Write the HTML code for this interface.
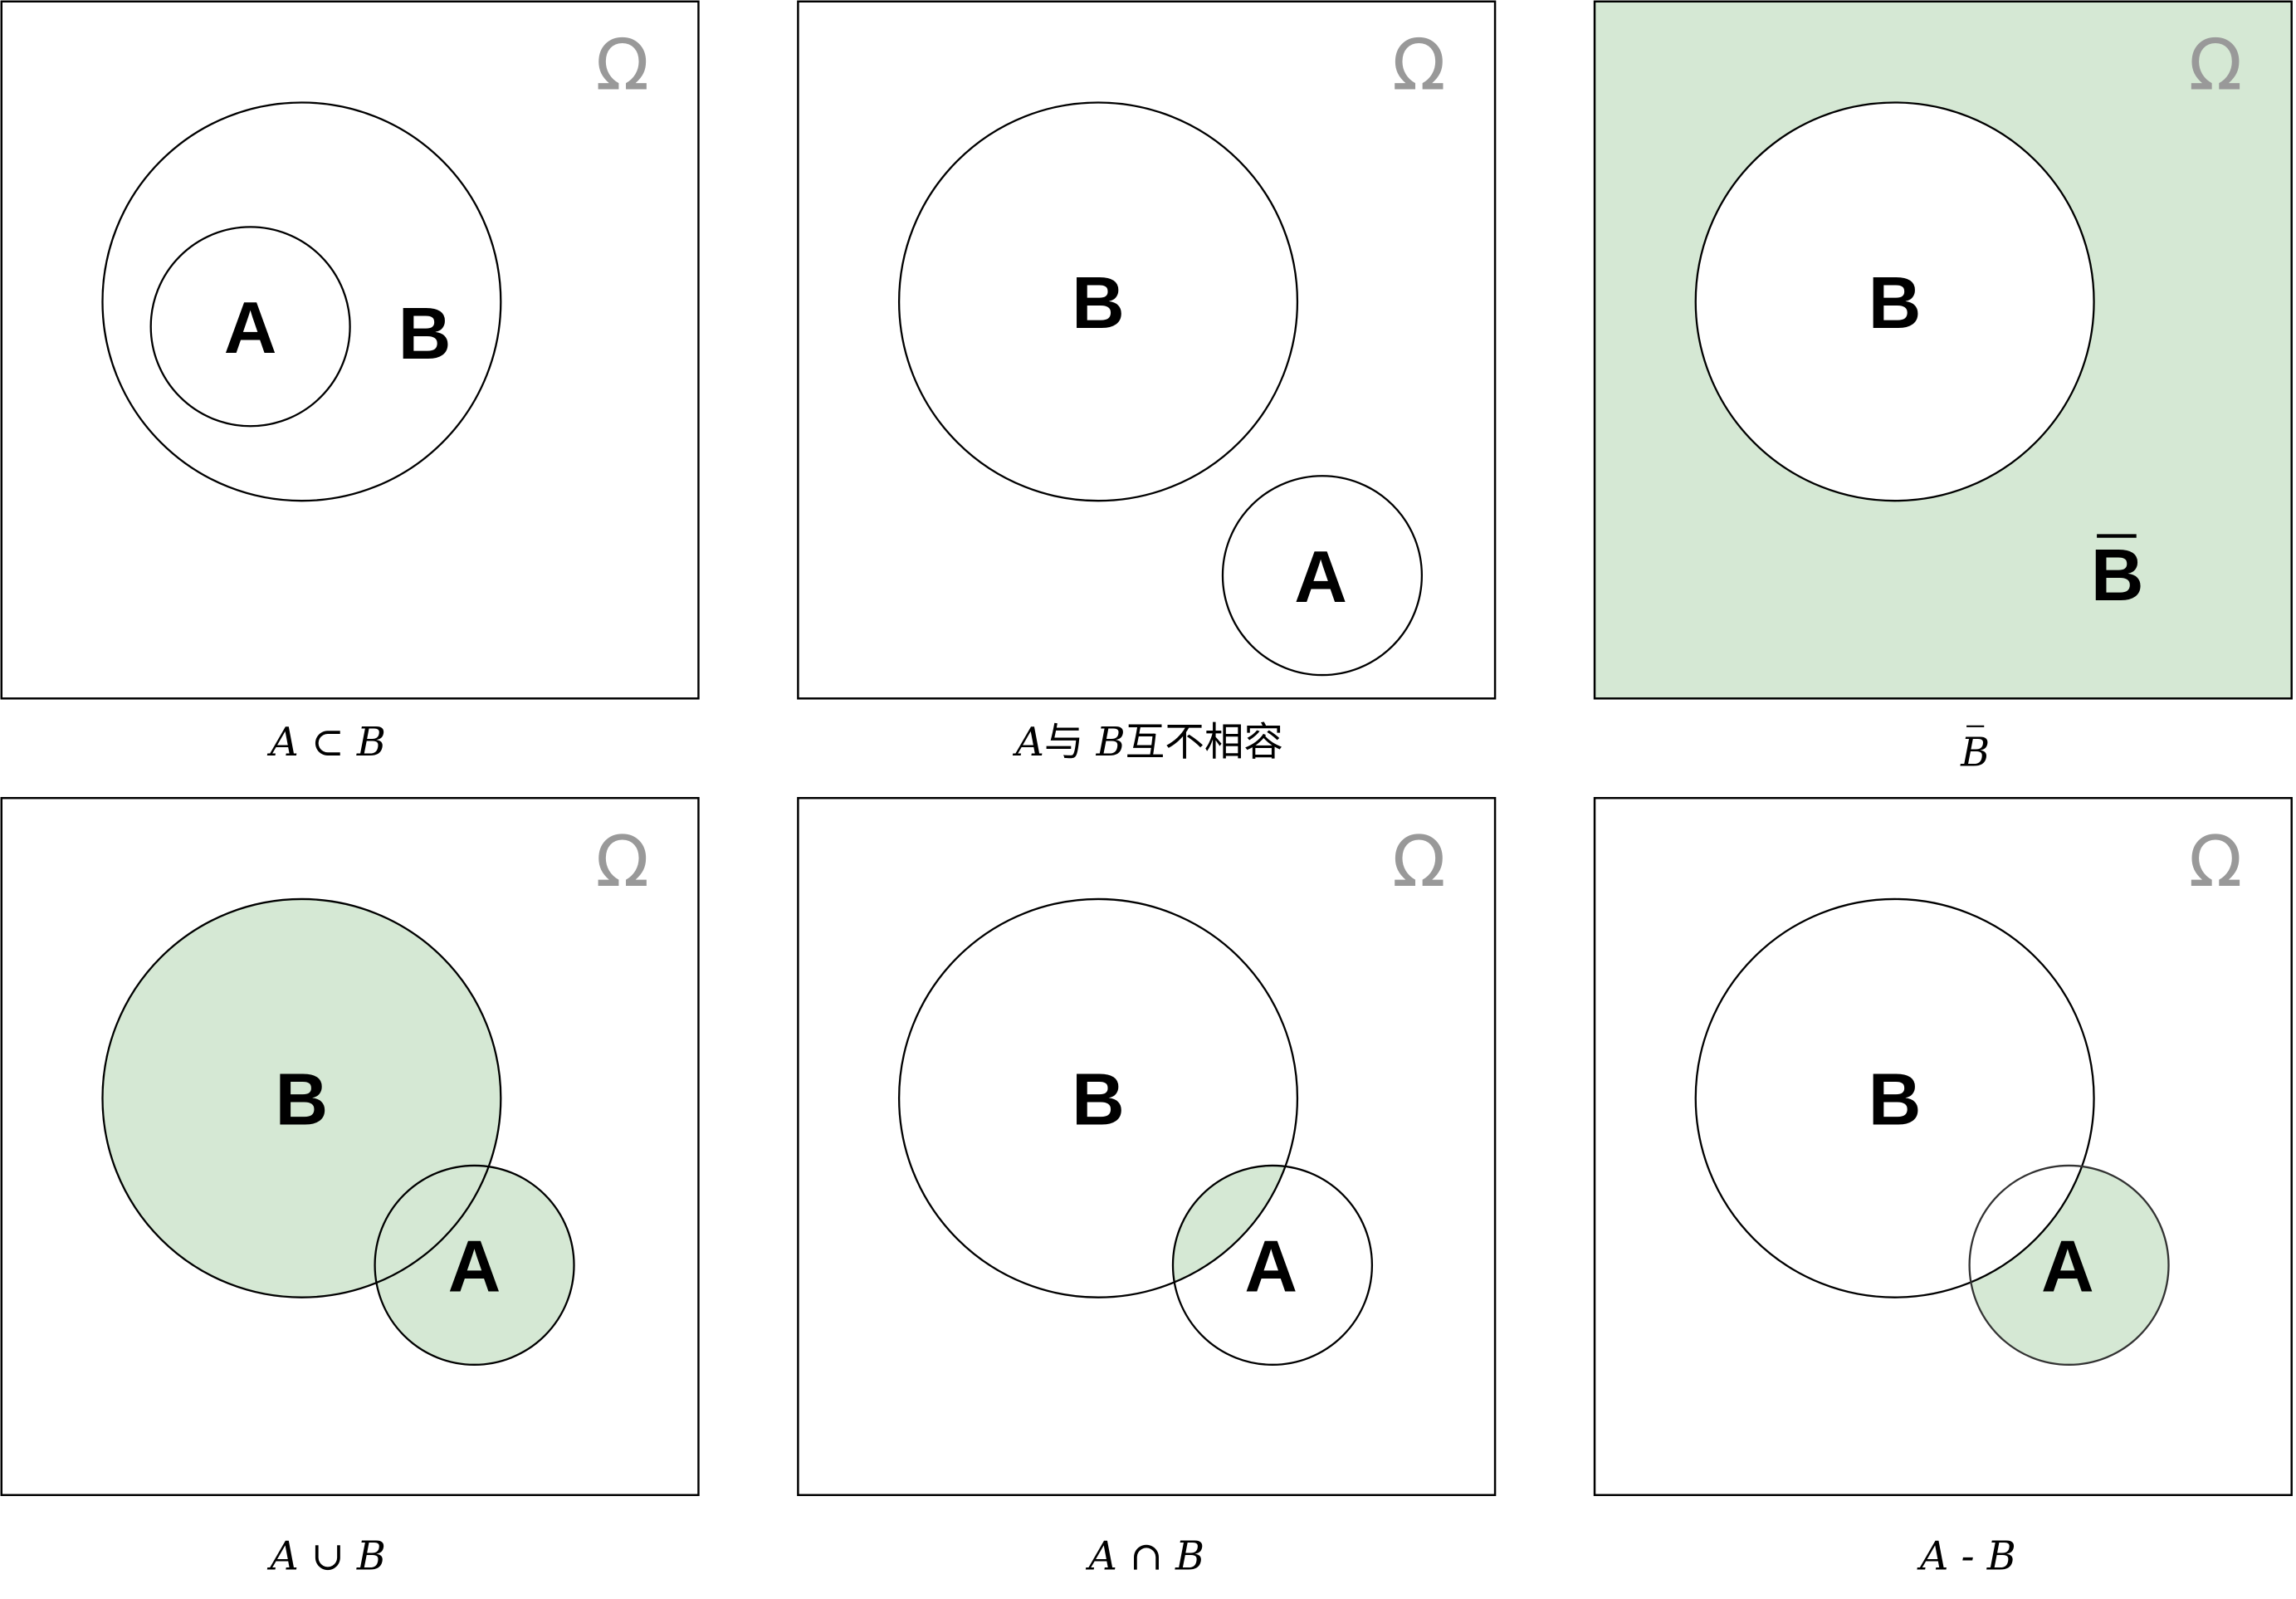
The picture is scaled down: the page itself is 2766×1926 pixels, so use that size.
<!DOCTYPE html>
<html><head><meta charset="utf-8"><style>
html,body{margin:0;padding:0;background:#fff;}
svg{display:block;}
.lbl{font-family:"Liberation Sans",sans-serif;font-weight:bold;font-size:50px;}
.om{font-family:"DejaVu Sans","Liberation Sans",sans-serif;font-size:48px;fill:#999;}
.cap{font-family:"DejaVu Serif","Liberation Serif","Noto Sans CJK SC",serif;font-style:italic;font-size:27px;}
.cjk{font-family:"Noto Sans CJK SC",sans-serif;font-style:normal;}
</style></head><body>
<svg id="chart" width="2766" height="1926" viewBox="0 0 1568 1092" preserveAspectRatio="none" xmlns="http://www.w3.org/2000/svg">
<defs></defs>
</svg>
<script>
// panel origins (grid columns/rows)
const panelCols = [0, 1, 2, 0, 1, 2];
const panelRows = [0, 0, 0, 1, 1, 1];
const panelNames = ['subset', 'disjoint', 'complement', 'union', 'intersection', 'difference'];
// circle B (center relative to panel, radius)
const circleB = [[205, 205, 136], [205, 205, 136], [205, 205, 136], [205, 205, 136], [205, 205, 136], [205, 205, 136]];
// circle A (null when absent)
const circleA = [[170, 222, 68], [358, 392, 68], null, [323, 319, 68], [324, 319, 68], [324, 319, 68]];
// shading mode
const shading = ['none', 'none', 'outsideB', 'union', 'intersect', 'AminusB'];
// labels positions relative to panel
const labelA = [[170, 222], [357, 392], null, [323, 319], [323, 319], [323, 319]];
const labelB = [[289, 226], [205, 205], [205, 205], [205, 205], [205, 205], [205, 205]];
const captions = ['A ⊂ B', 'A与 B互不相容', 'B̄', 'A ∪ B', 'A ∩ B', 'A - B'];
const captionX = [223, 240, 260, 223, 238, 255];

const svg = document.getElementById('chart');
const defs = svg.querySelector('defs');
const NS = 'http://www.w3.org/2000/svg';
const GREEN = '#d5e8d4';
const colX = c => 1 + c * 544;
const rowY = r => 1 + r * 544;
function mk(tag, attrs, parent) {
  const e = document.createElementNS(NS, tag);
  for (const k in attrs) e.setAttribute(k, attrs[k]);
  parent.appendChild(e);
  return e;
}

panelNames.forEach((name, i) => {
  const ox = colX(panelCols[i]), oy = rowY(panelRows[i]);
  const g = mk('g', {}, svg);
  
  
  const W = 476;
  const bg = mk('rect', {x: ox, y: oy, width: W, height: W, fill: shading[i] === 'outsideB' ? GREEN : '#fff', stroke: '#000', 'stroke-width': 1.4}, g);
  
  
  const b = circleB[i], a = circleA[i];
  const bx = ox + b[0], by = oy + b[1];
  const mode = shading[i];
  let ax, ay;
  if (a) { ax = ox + a[0]; ay = oy + a[1]; }
  if (mode === 'outsideB') {
    const f = mk('circle', {cx: bx, cy: by, r: b[2], fill: '#fff'}, g);
    
    
  } else if (mode === 'union') {
    const f1 = mk('circle', {cx: bx, cy: by, r: b[2], fill: GREEN}, g);
    
    
    const f2 = mk('circle', {cx: ax, cy: ay, r: a[2], fill: GREEN}, g);
    
    
  } else if (mode === 'intersect') {
    const cp = mk('clipPath', {id: 'clipB' + i}, defs);
    mk('circle', {cx: bx, cy: by, r: b[2]}, cp);
    const f = mk('circle', {cx: ax, cy: ay, r: a[2], fill: GREEN, 'clip-path': 'url(#clipB' + i + ')'}, g);
    
    
  } else if (mode === 'AminusB') {
    const f = mk('circle', {cx: ax, cy: ay, r: a[2], fill: GREEN}, g);
    
    
    const w = mk('circle', {cx: bx, cy: by, r: b[2], fill: '#fff'}, g);
    
    
  }
  const cb = mk('circle', {cx: bx, cy: by, r: b[2], fill: 'none', stroke: '#000', 'stroke-width': 1.3}, g);
  
  
  if (a) {
    const ca = mk('circle', {cx: ax, cy: ay, r: a[2], fill: 'none', stroke: mode === 'AminusB' ? '#333' : '#000', 'stroke-width': 1.3}, g);
    
    
  }
  const om = mk('text', {x: ox + 424, y: oy + 60, 'text-anchor': 'middle', class: 'om'}, g);
  om.textContent = 'Ω';
  
  
  const lb = labelB[i];
  const tb = mk('text', {x: ox + lb[0], y: oy + lb[1] + 18, 'text-anchor': 'middle', class: 'lbl'}, g);
  tb.textContent = 'B';
  
  
  if (labelA[i]) {
    const la = labelA[i];
    const ta = mk('text', {x: ox + la[0], y: oy + la[1] + 18, 'text-anchor': 'middle', class: 'lbl'}, g);
    ta.textContent = 'A';
    
    
  }
  if (mode === 'outsideB') {
    const tc = mk('text', {x: ox + 357, y: oy + 409, 'text-anchor': 'middle', class: 'lbl'}, g);
    tc.textContent = 'B';
    
    
    const ol = mk('line', {x1: ox + 343, x2: ox + 370, y1: oy + 365, y2: oy + 365, stroke: '#000', 'stroke-width': 2.5}, g);
    
    
  }
  const cy = panelRows[i] === 0 ? 516 : 1072;
  const cap = mk('text', {x: ox + captionX[i], y: cy, 'text-anchor': 'middle', class: 'cap'}, g);
  
  
  if (i === 1) {
    cap.innerHTML = 'A<tspan class="cjk">与</tspan> B<tspan class="cjk">互不相容</tspan>';
  } else if (i === 2) {
    cap.textContent = 'B';
    cap.setAttribute('y', cy + 7);
    const ol = mk('line', {x1: ox + 254, x2: ox + 266, y1: oy + 495, y2: oy + 495, stroke: '#000', 'stroke-width': 1.2}, g);
    
    
  } else {
    cap.textContent = captions[i];
  }
});
</script>
</body></html>
